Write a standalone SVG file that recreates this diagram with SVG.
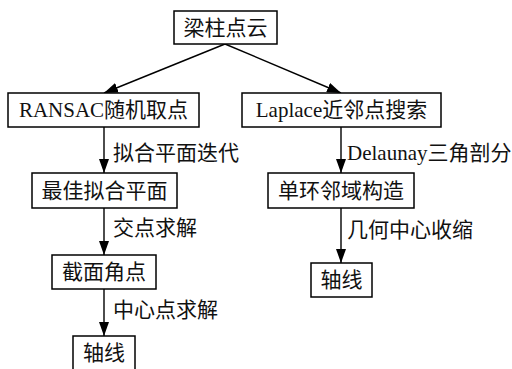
<svg xmlns="http://www.w3.org/2000/svg" width="512" height="369" viewBox="0 0 512 369">
<style>
rect{fill:#fff;stroke:#000;stroke-width:1.5}
text{font-family:"Liberation Serif","Noto Sans CJK SC",serif;font-size:21px;fill:#111}
.c{text-anchor:middle}
line{stroke:#000;stroke-width:1.4;marker-end:url(#ah)}
</style>
<defs>
<marker id="ah" markerUnits="userSpaceOnUse" markerWidth="14" markerHeight="10" refX="14" refY="5" orient="auto">
<path d="M0,0 L14,5 L0,10 z" fill="#000"/>
</marker>
</defs>
<rect x="0" y="0" width="512" height="369" style="fill:#fff;stroke:none"/>
<g id="connectors">
<line x1="225" y1="44" x2="104" y2="93"/>
<line x1="225" y1="44" x2="341" y2="93"/>
<line x1="104" y1="127" x2="104" y2="173"/>
<line x1="341" y1="127" x2="341" y2="173"/>
<line x1="104" y1="208" x2="104" y2="255"/>
<line x1="341" y1="208" x2="341" y2="263"/>
<line x1="104" y1="289" x2="104" y2="336"/>
<text x="113" y="160">拟合平面迭代</text>
<text x="347" y="160">Delaunay三角剖分</text>
<text x="113" y="235">交点求解</text>
<text x="347" y="237">几何中心收缩</text>
<text x="113" y="317">中心点求解</text>
</g>
<g id="n1"><rect x="174" y="11" width="103" height="33"/><text class="c" x="225.5" y="35">梁柱点云</text></g>
<g id="n2"><rect x="8" y="93" width="191" height="34"/><text class="c" x="103.5" y="117">RANSAC随机取点</text></g>
<g id="n3"><rect x="242" y="93" width="199" height="34"/><text class="c" x="341.5" y="117">Laplace近邻点搜索</text></g>
<g id="n4"><rect x="32" y="173" width="145" height="35"/><text class="c" x="104.5" y="198">最佳拟合平面</text></g>
<g id="n5"><rect x="268" y="173" width="146" height="35"/><text class="c" x="341" y="198">单环邻域构造</text></g>
<g id="n6"><rect x="52" y="255" width="104" height="34"/><text class="c" x="104" y="279">截面角点</text></g>
<g id="n7"><rect x="311" y="263" width="61" height="34"/><text class="c" x="341.5" y="287">轴线</text></g>
<g id="n8"><rect x="73" y="336" width="62" height="38"/><text class="c" x="104" y="360">轴线</text></g>
</svg>
